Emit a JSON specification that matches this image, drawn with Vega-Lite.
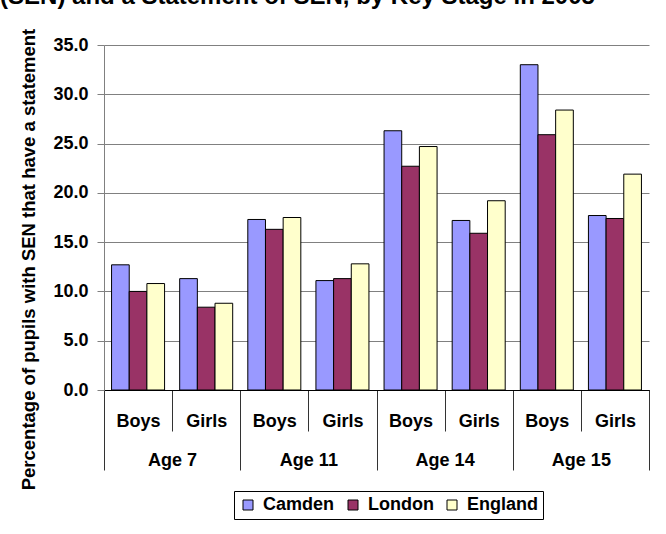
{
  "$schema": "https://vega.github.io/schema/vega-lite/v6.json",
  "width": 545,
  "height": 345,
  "autosize": {"type": "none"},
  "padding": {"left": 104, "top": 45, "right": 17, "bottom": 144},
  "background": "white",
  "title": {
    "text": "(SEN) and a Statement of SEN, by Key Stage in 2005",
    "anchor": "middle",
    "frame": "group",
    "dx": -79,
    "offset": 0,
    "fontSize": 24,
    "fontWeight": "bold",
    "font": "Liberation Sans",
    "color": "black",
    "baseline": "alphabetic"
  },
  "data": {
    "values": [
      {"age": "Age 7", "group": "Age 7 Boys", "region": "Camden", "value": 12.7},
      {"age": "Age 7", "group": "Age 7 Boys", "region": "London", "value": 10.0},
      {"age": "Age 7", "group": "Age 7 Boys", "region": "England", "value": 10.8},
      {"age": "Age 7", "group": "Age 7 Girls", "region": "Camden", "value": 11.3},
      {"age": "Age 7", "group": "Age 7 Girls", "region": "London", "value": 8.4},
      {"age": "Age 7", "group": "Age 7 Girls", "region": "England", "value": 8.8},
      {"age": "Age 11", "group": "Age 11 Boys", "region": "Camden", "value": 17.3},
      {"age": "Age 11", "group": "Age 11 Boys", "region": "London", "value": 16.3},
      {"age": "Age 11", "group": "Age 11 Boys", "region": "England", "value": 17.5},
      {"age": "Age 11", "group": "Age 11 Girls", "region": "Camden", "value": 11.1},
      {"age": "Age 11", "group": "Age 11 Girls", "region": "London", "value": 11.3},
      {"age": "Age 11", "group": "Age 11 Girls", "region": "England", "value": 12.8},
      {"age": "Age 14", "group": "Age 14 Boys", "region": "Camden", "value": 26.3},
      {"age": "Age 14", "group": "Age 14 Boys", "region": "London", "value": 22.7},
      {"age": "Age 14", "group": "Age 14 Boys", "region": "England", "value": 24.7},
      {"age": "Age 14", "group": "Age 14 Girls", "region": "Camden", "value": 17.2},
      {"age": "Age 14", "group": "Age 14 Girls", "region": "London", "value": 15.9},
      {"age": "Age 14", "group": "Age 14 Girls", "region": "England", "value": 19.2},
      {"age": "Age 15", "group": "Age 15 Boys", "region": "Camden", "value": 33.0},
      {"age": "Age 15", "group": "Age 15 Boys", "region": "London", "value": 25.9},
      {"age": "Age 15", "group": "Age 15 Boys", "region": "England", "value": 28.4},
      {"age": "Age 15", "group": "Age 15 Girls", "region": "Camden", "value": 17.7},
      {"age": "Age 15", "group": "Age 15 Girls", "region": "London", "value": 17.4},
      {"age": "Age 15", "group": "Age 15 Girls", "region": "England", "value": 21.9}
    ]
  },
  "layer": [
    {
      "mark": {"type": "bar", "stroke": "black", "strokeWidth": 1},
      "encoding": {
        "x": {
          "field": "group",
          "type": "nominal",
          "sort": ["Age 7 Boys", "Age 7 Girls", "Age 11 Boys", "Age 11 Girls", "Age 14 Boys", "Age 14 Girls", "Age 15 Boys", "Age 15 Girls"],
          "scale": {"paddingInner": 0, "paddingOuter": 0},
          "axis": {
            "orient": "bottom",
            "title": null,
            "labelAngle": 0,
            "labelExpr": "split(datum.value, ' ')[2]",
            "labelFont": "Liberation Sans",
            "labelFontSize": 18,
            "labelFontWeight": "bold",
            "labelColor": "black",
            "labelBaseline": "alphabetic",
            "labelPadding": -5,
            "tickBand": "extent",
            "tickSize": 41,
            "tickColor": "#333333",
            "domainColor": "black",
            "grid": false
          }
        },
        "xOffset": {
          "field": "region",
          "type": "nominal",
          "sort": ["Camden", "London", "England"],
          "scale": {"paddingInner": 0, "paddingOuter": 0.428}
        },
        "y": {
          "field": "value",
          "type": "quantitative",
          "scale": {"domain": [0, 35], "nice": false},
          "axis": {
            "values": [0, 5, 10, 15, 20, 25, 30, 35],
            "format": ".1f",
            "title": "Percentage of pupils with SEN that have a statement",
            "titleFont": "Liberation Sans",
            "titleFontSize": 18.5,
            "titleFontWeight": "bold",
            "titleColor": "black",
            "titleAngle": -90,
            "titleAlign": "center",
            "titleBaseline": "alphabetic",
            "titleX": -69.5,
            "titleY": 214,
            "labelFont": "Liberation Sans",
            "labelFontSize": 18,
            "labelFontWeight": "bold",
            "labelColor": "black",
            "labelPadding": 9,
            "tickSize": 7,
            "tickColor": "#808080",
            "domainColor": "#808080",
            "gridColor": "#808080",
            "grid": true
          }
        },
        "color": {
          "field": "region",
          "type": "nominal",
          "sort": ["Camden", "London", "England"],
          "scale": {"domain": ["Camden", "London", "England"], "range": ["#9999FF", "#993366", "#FFFFCC"]},
          "legend": {
            "title": null,
            "orient": "none",
            "legendX": 130,
            "legendY": 446,
            "direction": "horizontal",
            "strokeColor": "black",
            "fillColor": "white",
            "padding": 5,
            "columnPadding": 9,
            "symbolType": "square",
            "symbolSize": 100,
            "symbolStrokeColor": "black",
            "symbolStrokeWidth": 1,
            "symbolOpacity": 1,
            "labelFont": "Liberation Sans",
            "labelFontSize": 18,
            "labelFontWeight": "bold",
            "labelColor": "black",
            "labelOffset": 6
          }
        }
      }
    },
    {
      "mark": {"type": "tick", "opacity": 0},
      "encoding": {
        "x": {
          "field": "age",
          "type": "nominal",
          "sort": ["Age 7", "Age 11", "Age 14", "Age 15"],
          "scale": {"paddingInner": 0, "paddingOuter": 0},
          "axis": {
            "orient": "bottom",
            "title": null,
            "labelAngle": 0,
            "labelFont": "Liberation Sans",
            "labelFontSize": 18,
            "labelFontWeight": "bold",
            "labelColor": "black",
            "labelBaseline": "alphabetic",
            "labelPadding": -5,
            "tickBand": "extent",
            "tickSize": 80,
            "tickColor": "#333333",
            "domainColor": "black",
            "grid": false
          }
        },
        "y": {"field": "value", "type": "quantitative"}
      }
    }
  ],
  "resolve": {"scale": {"x": "independent"}, "axis": {"x": "independent"}},
  "config": {"view": {"stroke": null}, "font": "Liberation Sans"}
}
